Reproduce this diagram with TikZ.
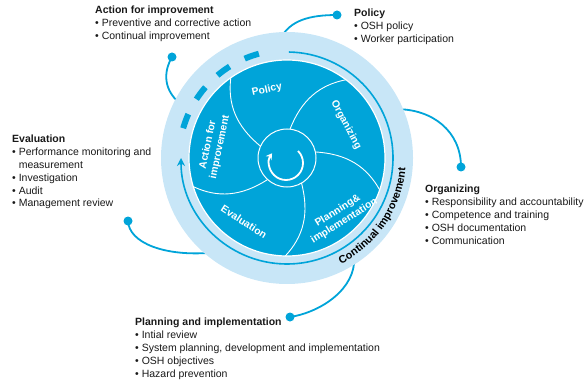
\documentclass[tikz,border=0pt]{standalone}
\usepackage{fontspec}
\setmainfont{Liberation Sans}
\usetikzlibrary{arrows.meta,decorations.text,calc}
\definecolor{ilodark}{RGB}{0,164,217}
\definecolor{ilolight}{RGB}{200,230,247}
\begin{document}
\begin{tikzpicture}[x=1pt,y=1pt,
  conn/.style={draw=ilodark, line width=1.8pt},
  dot/.style={circle, fill=ilodark, inner sep=0pt, minimum size=9pt},
  blocktext/.style={anchor=north west, align=left, inner sep=0pt, font=\fontsize{10.5}{12.8}\selectfont, text=black!90},
  seclab/.style={text=white, font=\fontsize{10.3}{12}\selectfont\bfseries, align=center, inner sep=0pt},
  divider/.style={draw=white, line width=0.9pt}
]
\useasboundingbox (0,0) rectangle (585,383);
\coordinate (C) at (287,225);

% connectors
\node[dot] (dAct) at (172,326) {};
\coordinate (cAct) at ($(C)+(153:120)$);
\draw[conn] (dAct.center) .. controls (166,316) and (160,296) .. (cAct);

\node[dot] (dPol) at (337,368) {};
\coordinate (cPol) at ($(C)+(93:120)$);
\draw[conn] (cPol) .. controls (290,362) and (308,368) .. (dPol.center);

\node[dot] (dOrg) at (461,216) {};
\coordinate (cOrg) at ($(C)+(24:120)$);
\draw[conn] (cOrg) .. controls (432,274) and (461,252) .. (dOrg.center);

\node[dot] (dEval) at (128,162) {};
\coordinate (cEval) at ($(C)+(-128:120)$);
\draw[conn] (dEval.center) .. controls (129,140) and (165,126) .. (cEval);

\node[dot] (dPlan) at (290,66) {};
\coordinate (cPlan) at ($(C)+(-56:120)$);
\draw[conn] (cPlan) .. controls (356,95) and (322,71) .. (dPlan.center);

% circles
\fill[ilolight] (C) circle[radius=126];
\draw[fill=ilodark, draw=white, line width=1.2pt] (C) circle[radius=98];

\begin{scope}[shift={(C)}]
  \foreach \t in {84,12,-60,-132,156} {
    \draw[divider] (\t:29) .. controls ({\t-8}:60) and ({\t-18}:80) .. ({\t-31}:98);
  }
  \draw[white, line width=1pt] (0,0) circle[radius=29];
  \draw[white, line width=1.8pt, -{Stealth[length=6pt,width=7pt]}] ($(-1,-5)+(45:17)$) arc[start angle=45, end angle=-215, radius=17];
\end{scope}

% continual improvement arcs
\draw[ilodark, line width=1.6pt, -{Stealth[length=8pt,width=8pt]}] ($(C)+(89:106)$) arc[start angle=89, end angle=-180, radius=106];
\draw[ilodark, line width=6pt, dash pattern=on 15pt off 17pt] ($(C)+(164:108)$) arc[start angle=164, end angle=105, radius=108];

\path[decorate, decoration={text along path, text={|\fontsize{10.8}{12}\selectfont\bfseries|Continual improvement}, text align=center}] ($(C)+(-75:119)$) arc[start angle=-75, end angle=7, radius=119];

% sector labels
\node[seclab, rotate=12] (lPol) at (267,293) {Policy};
\node[seclab, rotate=-62] (lOrg) at (346,258) {Organizing};
\node[seclab, rotate=32] (lPlan) at (341,167) {Planning\&\\implementation};
\node[seclab, rotate=-33] (lEval) at (244,161) {Evaluation};
\node[seclab, rotate=78] (lAct) at (214,237) {Action for\\improvement};

% text blocks
\node[blocktext] (tAct) at (95,377) {\textbf{Action for improvement}\\• Preventive and corrective action\\• Continual improvement};
\node[blocktext] (tPol) at (354,374) {\textbf{Policy}\\• OSH policy\\• Worker participation};
\node[blocktext] (tEval) at (12,248) {\textbf{Evaluation}\\• Performance monitoring and\\\phantom{• }measurement\\• Investigation\\• Audit\\• Management review};
\node[blocktext] (tOrg) at (425,198) {\textbf{Organizing}\\• Responsibility and accountability\\• Competence and training\\• OSH documentation\\• Communication};
\node[blocktext] (tPlan) at (135,65) {\textbf{Planning and implementation}\\• Intial review\\• System planning, development and implementation\\• OSH objectives\\• Hazard prevention};
\end{tikzpicture}
\end{document}
